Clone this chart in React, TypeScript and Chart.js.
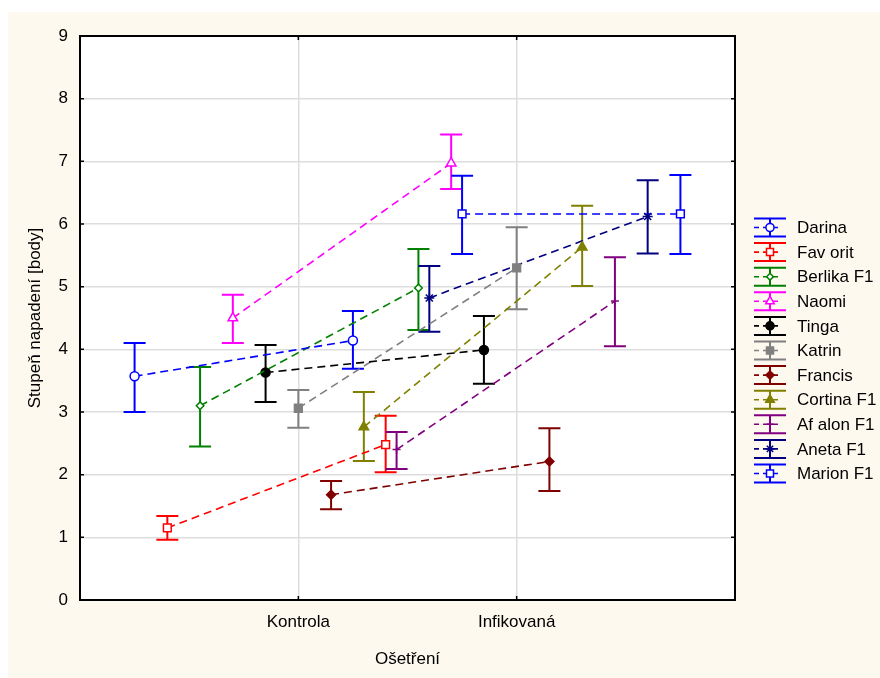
import { useEffect, useRef } from 'react';
import { Chart, registerables } from 'chart.js';
import { drawPoint } from 'chart.js/helpers';
Chart.register(...registerables);

const categories = ['Kontrola', 'Infikovaná'];
const seriesNames = ['Darina', 'Fav orit', 'Berlika F1', 'Naomi', 'Tinga', 'Katrin', 'Francis', 'Cortina F1', 'Af alon F1', 'Aneta F1', 'Marion F1'];
const seriesColors = ['#0000ff', '#ff0000', '#008000', '#ff00ff', '#000000', '#808080', '#800000', '#808000', '#800080', '#000080', '#0000ff'];
const seriesOffsets = [-0.75, -0.6, -0.45, -0.3, -0.15, 0, 0.15, 0.3, 0.45, 0.6, 0.75];
const kontrolaMean = [3.57, 1.15, 3.1, 4.5, 3.63, 3.06, 1.68, 2.76, 2.4, 4.82, 6.16];
const kontrolaLow = [3.0, 0.96, 2.45, 4.1, 3.16, 2.75, 1.45, 2.22, 2.09, 4.28, 5.52];
const kontrolaHigh = [4.1, 1.34, 3.72, 4.87, 4.07, 3.35, 1.9, 3.32, 2.68, 5.33, 6.77];
const infikovanaMean = [4.14, 2.48, 4.98, 6.97, 3.99, 5.3, 2.21, 5.63, 4.77, 6.12, 6.16];
const infikovanaLow = [3.69, 2.04, 4.31, 6.56, 3.45, 4.64, 1.74, 5.01, 4.05, 5.53, 5.52];
const infikovanaHigh = [4.61, 2.94, 5.6, 7.43, 4.53, 5.95, 2.74, 6.29, 5.47, 6.7, 6.78];
const pointStyles = ['circle', 'rect', 'rectRot', 'triangle', 'circle', 'rect', 'rectRot', 'triangle', 'cross', 'star', 'rect'];
const pointFilled = [false, false, false, false, true, true, true, true, false, false, false];
const pointRadii = [4.5, 5.5, 3.8, 5.5, 4.5, 5.5, 4.5, 5.5, 4, 5, 5.5];
const yMin = 0;
const yMax = 9;

const FONT = '"Liberation Sans", Arial, sans-serif';
const FSIZE = 17;

const customPlugin = {
  id: 'custom',
  beforeDraw(chart: any) {
    const { ctx, chartArea } = chart;
    ctx.save();
    ctx.fillStyle = '#ffffff';
    ctx.fillRect(0, 0, chart.width, chart.height);
    ctx.fillStyle = '#fef9ee';
    ctx.fillRect(8, 12, chart.width - 8, chart.height - 12);
    ctx.fillStyle = '#ffffff';
    ctx.fillRect(chartArea.left, chartArea.top, chartArea.right - chartArea.left, chartArea.bottom - chartArea.top);
    ctx.restore();
  },
  beforeDatasetsDraw(chart: any) {
    const { ctx } = chart;
    const xs = chart.scales.x;
    const ys = chart.scales.y;
    ctx.save();
    ctx.lineWidth = 2;
    const half = 11;
    seriesNames.forEach((_, i) => {
      ctx.strokeStyle = seriesColors[i];
      const bars = [
        [1 + seriesOffsets[i], kontrolaLow[i], kontrolaHigh[i]],
        [2 + seriesOffsets[i], infikovanaLow[i], infikovanaHigh[i]],
      ];
      bars.forEach(([xv, lo, hi]) => {
        const px = xs.getPixelForValue(xv);
        const pl = ys.getPixelForValue(lo);
        const ph = ys.getPixelForValue(hi);
        ctx.beginPath();
        ctx.moveTo(px, pl);
        ctx.lineTo(px, ph);
        ctx.moveTo(px - half, pl);
        ctx.lineTo(px + half, pl);
        ctx.moveTo(px - half, ph);
        ctx.lineTo(px + half, ph);
        ctx.stroke();
      });
    });
    ctx.restore();
  },
  afterDraw(chart: any) {
    const { ctx, chartArea } = chart;
    const xs = chart.scales.x;
    const ys = chart.scales.y;
    const { left, right, top, bottom } = chartArea;
    ctx.save();
    ctx.strokeStyle = '#000000';
    ctx.lineWidth = 2;
    ctx.strokeRect(left, top, right - left, bottom - top);
    ctx.lineWidth = 1.5;
    ctx.beginPath();
    for (let v = yMin; v <= yMax; v++) {
      const py = ys.getPixelForValue(v);
      ctx.moveTo(left, py);
      ctx.lineTo(left + 4, py);
      ctx.moveTo(right, py);
      ctx.lineTo(right - 4, py);
    }
    categories.forEach((_, i) => {
      const px = xs.getPixelForValue(i + 1);
      ctx.moveTo(px, bottom);
      ctx.lineTo(px, bottom - 4);
      ctx.moveTo(px, top);
      ctx.lineTo(px, top + 4);
    });
    ctx.stroke();
    ctx.fillStyle = '#000000';
    ctx.font = FSIZE + 'px ' + FONT;
    ctx.textAlign = 'center';
    ctx.textBaseline = 'middle';
    ctx.fillText('Ošetření', (left + right) / 2, 659);
    ctx.save();
    ctx.translate(35, (top + bottom) / 2);
    ctx.rotate(-Math.PI / 2);
    ctx.fillText('Stupeň napadení [body]', 0, 0);
    ctx.restore();
    const lx = 770;
    seriesNames.forEach((name, i) => {
      const cy = 227.5 + i * 24.6;
      const col = seriesColors[i];
      ctx.strokeStyle = col;
      ctx.lineWidth = 2;
      ctx.setLineDash([]);
      ctx.beginPath();
      ctx.moveTo(754, cy - 9);
      ctx.lineTo(786, cy - 9);
      ctx.moveTo(754, cy + 9);
      ctx.lineTo(786, cy + 9);
      ctx.moveTo(lx, cy - 9);
      ctx.lineTo(lx, cy + 9);
      ctx.stroke();
      ctx.lineWidth = 1.6;
      ctx.beginPath();
      ctx.moveTo(754, cy);
      ctx.lineTo(759, cy);
      ctx.moveTo(763, cy);
      ctx.lineTo(778, cy);
      ctx.stroke();
      ctx.fillStyle = pointFilled[i] ? col : '#ffffff';
      ctx.strokeStyle = col;
      ctx.lineWidth = 1.5;
      drawPoint(ctx, { pointStyle: pointStyles[i] as any, radius: pointRadii[i] * 0.9, rotation: 0, borderWidth: 1.5 }, lx, cy);
      ctx.fillStyle = '#000000';
      ctx.font = FSIZE + 'px ' + FONT;
      ctx.textAlign = 'left';
      ctx.textBaseline = 'middle';
      ctx.fillText(name, 797, cy + 1);
    });
    ctx.restore();
  },
};

export default function App() {
  const ref = useRef<HTMLCanvasElement>(null);
  useEffect(() => {
    if (!ref.current) return;
    const datasets = seriesNames.map((name, i) => ({
      label: name,
      data: [
        { x: 1 + seriesOffsets[i], y: kontrolaMean[i] },
        { x: 2 + seriesOffsets[i], y: infikovanaMean[i] },
      ],
      showLine: true,
      borderColor: seriesColors[i],
      borderWidth: 1.6,
      borderDash: [8, 5],
      pointStyle: pointStyles[i],
      pointRadius: pointRadii[i],
      pointBorderWidth: 1.5,
      pointBorderColor: seriesColors[i],
      pointBackgroundColor: pointFilled[i] ? seriesColors[i] : '#ffffff',
      pointHoverRadius: pointRadii[i],
    }));
    const chart = new Chart(ref.current, {
      type: 'scatter',
      data: { datasets },
      plugins: [customPlugin],
      options: {
        responsive: false,
        animation: false,
        events: [],
        layout: { padding: { left: 0, top: 36, right: 145, bottom: 0 } },
        plugins: { legend: { display: false }, tooltip: { enabled: false } },
        scales: {
          x: {
            type: 'linear',
            min: 0,
            max: 3,
            afterBuildTicks: (scale: any) => {
              scale.ticks = categories.map((_, i) => ({ value: i + 1 }));
            },
            afterFit: (scale: any) => {
              scale.height = 78;
            },
            ticks: {
              autoSkip: false,
              maxRotation: 0,
              padding: 12,
              color: '#000000',
              font: { size: FSIZE, family: FONT },
              callback: (v: any) => categories[Math.round(v) - 1] ?? '',
            },
            grid: { color: '#dddddd', lineWidth: 1.5, drawTicks: false },
            border: { display: false },
          },
          y: {
            min: yMin,
            max: yMax,
            afterFit: (scale: any) => {
              scale.width = 80;
            },
            ticks: {
              stepSize: 1,
              padding: 12,
              color: '#000000',
              font: { size: FSIZE, family: FONT },
            },
            grid: { color: '#dddddd', lineWidth: 1.5, drawTicks: false },
            border: { display: false },
          },
        },
      },
    });
    return () => chart.destroy();
  }, []);
  return (
    <div style={{ position: 'absolute', left: 0, top: 0, width: 880, height: 678 }}>
      <canvas ref={ref} width={880} height={678} style={{ display: 'block' }} />
    </div>
  );
}
